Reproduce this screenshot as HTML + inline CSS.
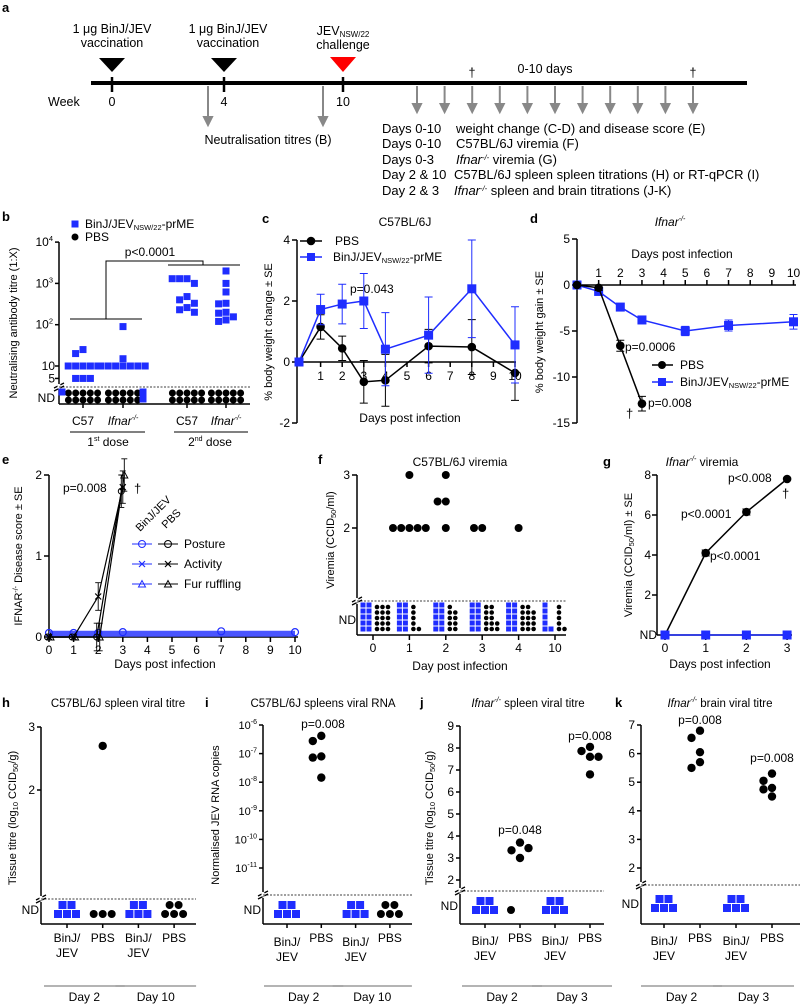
<!DOCTYPE html>
<html><head><meta charset="utf-8"><style>
html,body{margin:0;padding:0;background:#fff}
svg{display:block;font-family:"Liberation Sans",Arial,sans-serif}
text{fill:#000}
</style></head><body>
<svg id="fig" xmlns="http://www.w3.org/2000/svg" width="800" height="1008" viewBox="0 0 800 1008">
<g font-size="12.5">
<text x="2" y="12" font-size="13" font-weight="bold">a</text>
<line x1="91" y1="83" x2="747" y2="83" stroke="#000" stroke-width="4"/>
<polygon points="99,58 125,58 112,72" fill="#000"/>
<polygon points="211,58 237,58 224,72" fill="#000"/>
<polygon points="330,57 356,57 343,72" fill="#f00"/>
<g stroke="#000" stroke-width="2.5"><line x1="112" y1="77" x2="112" y2="92"/><line x1="224" y1="77" x2="224" y2="92"/><line x1="343" y1="77" x2="343" y2="92"/></g>
<text x="112" y="33" text-anchor="middle">1 μg BinJ/JEV</text>
<text x="112" y="47" text-anchor="middle">vaccination</text>
<text x="228" y="33" text-anchor="middle">1 μg BinJ/JEV</text>
<text x="228" y="47" text-anchor="middle">vaccination</text>
<text x="343" y="35" text-anchor="middle">JEV<tspan font-size="8" dy="2">NSW/22</tspan></text>
<text x="343" y="49" text-anchor="middle">challenge</text>
<text x="48" y="106">Week</text>
<text x="112" y="106" text-anchor="middle">0</text>
<text x="224" y="106" text-anchor="middle">4</text>
<text x="343" y="106" text-anchor="middle">10</text>
<g stroke="#888" stroke-width="2" fill="#888">
<line x1="208" y1="86" x2="208" y2="118"/><polygon points="204,117 212,117 208,125"/>
<line x1="323" y1="86" x2="323" y2="118"/><polygon points="319,117 327,117 323,125"/>
</g>
<text x="268" y="144" text-anchor="middle">Neutralisation titres (B)</text>
<g id="dayArrows" stroke="#888" stroke-width="2" fill="#888"></g>
<text x="472" y="77" text-anchor="middle">†</text>
<text x="693" y="77" text-anchor="middle">†</text>
<text x="545" y="73" text-anchor="middle">0-10 days</text>
<g font-size="13">
<text x="382" y="133">Days 0-10</text><text x="456" y="133">weight change (C-D) and disease score (E)</text>
<text x="382" y="148">Days 0-10</text><text x="456" y="148">C57BL/6J viremia (F)</text>
<text x="382" y="164">Days 0-3</text><text x="456" y="164"><tspan font-style="italic">Ifnar</tspan><tspan font-size="7.5" dy="-4" font-style="italic">-/-</tspan><tspan dy="4"> viremia (G)</tspan></text>
<text x="382" y="179">Day 2 &amp; 10</text><text x="454" y="179">C57BL/6J spleen spleen titrations (H) or RT-qPCR (I)</text>
<text x="382" y="195">Day 2 &amp; 3</text><text x="454" y="195"><tspan font-style="italic">Ifnar</tspan><tspan font-size="7.5" dy="-4" font-style="italic">-/-</tspan><tspan dy="4"> spleen and brain titrations (J-K)</tspan></text>
</g>
</g>
</svg>
<script>
// ===== DATA =====
const bGroups=['C57 1st','Ifnar 1st','C57 2nd','Ifnar 2nd'];
const bVacC57_1=[25,20,10,10,10,10,10,5,5,5];
const bVacIfn_1=[90,15,10,10,10,10,10,10,10];
const bVacC57_2=[1300,1300,1000,1300,480,400,330,260,230,200];
const bVacIfn_2=[2000,1000,620,330,320,200,190,155,130,120];
const bVacND=[1,2,0,0];
const bPbsND=[10,10,10,10];
const cDays=[0,1,2,3,4,6,8,10];
const cPbs=[0,1.15,0.45,-0.65,-0.6,0.52,0.49,-0.36];
const cPbsSE=[0,0.4,0.4,0.7,0.85,0.55,0.9,0.9];
const cVac=[0,1.72,1.9,2.0,0.42,0.88,2.4,0.56];
const cVacSE=[0,0.5,0.65,0.9,1.2,1.25,1.6,1.25];
const dPbsDays=[0,1,2,3];
const dPbs=[0,-0.3,-6.6,-12.9];
const dPbsSE=[0,0.3,0.6,0.8];
const dVacDays=[0,1,2,3,5,7,10];
const dVac=[0,-0.7,-2.4,-3.8,-5.0,-4.4,-4.0];
const dVacSE=[0,0.2,0.3,0.4,0.5,0.6,0.8];
const eDays=[0,1,2,3];
const ePosture=[0,0,0,1.8];
const eActivity=[0,0,0.5,1.85];
const eFur=[0,0,0,2.0];
const eSE=[0,0,0.17,0.2];
const eVacDays=[0,1,2,3,7,10];
const eVac=[0.05,0.05,0.05,0.06,0.07,0.06];
const fDays=['0','1','2','3','4','10'];
const fPbs=[[],[2,2,2,2,2,3],[3,2.5,2.5,2],[2,2],[2],[]];
const fVacND=[10,10,10,10,10,6];
const fPbsND=[15,6,9,12,14,6];
const gDays=[0,1,2,3];
const gPbs=[0,4.1,6.15,7.8];
const gVac=[0,0,0,0];
const hCats=['BinJ/JEV','PBS','BinJ/JEV','PBS'];
const hVals=[[],[2.7],[],[]];
const hND=[5,3,5,5];
const iVals=[[],[-6.38,-6.56,-7.1,-7.14,-7.84],[],[]];
const iND=[5,0,5,5];
const jVals=[[],[3.7,3.35,3.45,3.0],[],[8.05,7.86,7.6,7.6,6.8]];
const jND=[5,1,5,0];
const kVals=[[],[6.8,6.55,6.05,5.7,5.5],[],[5.3,5.05,4.8,4.75,4.5]];
const kND=[5,0,5,0];

// ===== HELPERS =====
const NS='http://www.w3.org/2000/svg';
const svg=document.getElementById('fig');
const BLUE='#1f2dff';
function mk(tag,a,p){const e=document.createElementNS(NS,tag);for(const k in a)e.setAttribute(k,a[k]);(p||svg).appendChild(e);return e;}
function tx(x,y,s,p,extra){const a=Object.assign({x:x,y:y,'font-size':11},extra||{});const e=mk('text',a,p);e.innerHTML=s;return e;}
function grp(){return mk('g',{});}
function beeswarm(vals,yf,cx,sp){const placed=[];const out=[];vals.forEach(v=>{const y=yf(v);const offs=[0,-sp,sp,-2*sp,2*sp,-3*sp,3*sp,-4*sp,4*sp];for(const o of offs){const x=cx+o;if(!placed.some(p=>Math.hypot(p[0]-x,p[1]-y)<sp-0.5)){placed.push([x,y]);out.push([x,y]);break;}}});return out;}
function sq(x,y,s,p,c){return mk('rect',{x:x-s/2,y:y-s/2,width:s,height:s,fill:c||BLUE},p);}
function dot(x,y,r,p){return mk('circle',{cx:x,cy:y,r:r,fill:'#000'},p);}
function line(x1,y1,x2,y2,p,w,c,da){const a={x1:x1,y1:y1,x2:x2,y2:y2,stroke:c||'#000','stroke-width':w||1.5};if(da)a['stroke-dasharray']=da;return mk('line',a,p);}
function breakMark(x,y,p){const g=mk('g',{},p);line(x-5,y+1,x+5,y-4,g,1.3);line(x-5,y+4,x+5,y-1,g,1.3);mk('rect',{x:x-1.5,y:y-2.5,width:3,height:4,fill:'#fff'},g);return g;}
function ytitle(x,y,s,p){const e=tx(x,y,s,p,{'text-anchor':'middle',transform:'rotate(-90 '+x+' '+y+')'});return e;}

// ===== PANEL A arrows =====
const arrowDays=[0,1,2,3,4,5,6,7,8,9,10];
const ag=document.getElementById('dayArrows');
arrowDays.forEach(d=>{const x=417+27.6*d;const l=line(x,86,x,105,ag,2,'#888');


const h=mk('polygon',{points:(x-4)+',104 '+(x+4)+',104 '+x+',112'},ag);

});

// ===== PANEL B =====
(function(){
const g=grp();


const lb=tx(2,221,'b',g,{'font-size':13,'font-weight':'bold'});


const yB=v=>366-41.3*(Math.log10(v)-1);
const X0=59,XE=250,YAX=404;
const ya=line(X0,242,X0,384,g);


const ya2=line(X0,390,X0,YAX,g);


breakMark(X0,387,g);
const xa=line(X0,YAX,XE,YAX,g);


const dl=line(X0,387,XE,387,g,0.8,'#000','2,1.5');


const yTickVals=[10000,1000,100,10,5];
const yTickLbl=['10<tspan font-size="7.5" dy="-5">4</tspan>','10<tspan font-size="7.5" dy="-5">3</tspan>','10<tspan font-size="7.5" dy="-5">2</tspan>','10','5'];
yTickVals.forEach((v,i)=>{const y=yB(v);line(X0-4,y,X0,y,g);const t=tx(i<3?53:55,y+4,yTickLbl[i],g,{'text-anchor':'end','font-size':12});

});
const nd=tx(55,402,'ND',g,{'text-anchor':'end','font-size':12});


const gx=[83,123,187,226];
const vac=[bVacC57_1,bVacIfn_1,bVacC57_2,bVacIfn_2];
gx.forEach((cx,gi)=>{line(cx,YAX,cx,YAX+4,g);
beeswarm(vac[gi],yB,cx,7.4).forEach(p=>{const s=sq(p[0],p[1],7,g);

});
for(let k=0;k<bPbsND[gi];k++){const c=dot(cx-14.6+7.3*(k%5),393+7*Math.floor(k/5),3.5,g);

}
for(let k=0;k<bVacND[gi];k++){const s=sq(gi===0?cx-21:cx+20,392+7*k,7,g);

}
});
const grpLbl=['C57','<tspan font-style="italic">Ifnar</tspan><tspan font-size="7" dy="-5" font-style="italic">-/-</tspan>','C57','<tspan font-style="italic">Ifnar</tspan><tspan font-size="7" dy="-5" font-style="italic">-/-</tspan>'];
gx.forEach((cx,i)=>{const t=tx(cx,425,grpLbl[i],g,{'text-anchor':'middle','font-size':12});

});
line(70,432,145,432,g,1);line(174,432,248,432,g,1);
const d1=tx(108,446,'1<tspan font-size="7" dy="-5">st</tspan><tspan dy="5"> dose</tspan>',g,{'text-anchor':'middle','font-size':12});


const d2=tx(210,446,'2<tspan font-size="7" dy="-5">nd</tspan><tspan dy="5"> dose</tspan>',g,{'text-anchor':'middle','font-size':12});


const br=mk('path',{d:'M70 319H142M106 319V261H203V265M168 265H240',fill:'none',stroke:'#000','stroke-width':1},g);


const pv=tx(150,256,'p&lt;0.0001',g,{'text-anchor':'middle','font-size':12});


const yt=ytitle(17,323,'Neutralising antibody titre (1:X)',g);


const ls=sq(75,224,7,g);


const lt=tx(85,228,'BinJ/JEV<tspan font-size="7.5" dy="2">NSW/22</tspan><tspan dy="-2">-prME</tspan>',g,{'font-size':12});


const lc=dot(75,237,3.5,g);


const lp=tx(85,241,'PBS',g,{'font-size':12});


})();

// ===== generic series with error bars =====
function series(g,days,vals,se,xf,yf,color,marker,name){
const pts=days.map((d,i)=>[xf(d),yf(vals[i])]);
const pl=mk('polyline',{points:pts.map(p=>p.join(',')).join(' '),fill:'none',stroke:color,'stroke-width':1.5},g);


days.forEach((d,i)=>{if(se&&se[i]>0){const x=xf(d);const e=mk('path',{d:'M'+x+' '+yf(vals[i]+se[i])+'V'+yf(vals[i]-se[i])+'M'+(x-4)+' '+yf(vals[i]+se[i])+'H'+(x+4)+'M'+(x-4)+' '+yf(vals[i]-se[i])+'H'+(x+4),stroke:color,'stroke-width':1,fill:'none'},g);

}
const m=marker==='sq'?sq(pts[i][0],pts[i][1],9,g,color):mk('circle',{cx:pts[i][0],cy:pts[i][1],r:4.3,fill:color},g);

});}

// ===== PANEL C =====
(function(){
const g=grp();


const lb=tx(262,223,'c',g,{'font-size':13,'font-weight':'bold'});


const ti=tx(405,226,'C57BL/6J',g,{'text-anchor':'middle','font-size':12});


const xC=d=>299+21.6*d, yC=v=>362-30.5*v;
const ya=line(297,240,297,423,g);


const xa=line(297,362,516,362,g);


const cYT=[4,2,0,-2];
cYT.forEach(v=>{line(292,yC(v),297,yC(v),g);const t=tx(290,yC(v)+4,String(v),g,{'text-anchor':'end','font-size':12});

});
const cXT=[1,2,3,4,5,6,7,8,9,10];
cXT.forEach(d=>{line(xC(d),362,xC(d),367,g);const t=tx(xC(d),380,String(d),g,{'text-anchor':'middle','font-size':12});

});
series(g,cDays,cPbs,cPbsSE,xC,yC,'#000','c','pbs');
series(g,cDays,cVac,cVacSE,xC,yC,BLUE,'sq','vaccinated');
const xt=tx(410,422,'Days post infection',g,{'text-anchor':'middle','font-size':12});


const yt=ytitle(272,332,'% body weight change ± SE',g);


const pv=tx(350,293,'p=0.043',g,{'font-size':12});


line(300,241,322,241,g);dot(311,241,4.3,g);
const l1=tx(335,245,'PBS',g,{'font-size':12});


line(300,257,322,257,g,1.5,BLUE);sq(311,257,8,g);
const l2=tx(333,261,'BinJ/JEV<tspan font-size="7.5" dy="2">NSW/22</tspan><tspan dy="-2">-prME</tspan>',g,{'font-size':12});


})();

// ===== PANEL D =====
(function(){
const g=grp();


const lb=tx(530,223,'d',g,{'font-size':13,'font-weight':'bold'});


const ti=tx(670,226,'<tspan font-style="italic">Ifnar</tspan><tspan font-size="7" dy="-5" font-style="italic">-/-</tspan>',g,{'text-anchor':'middle','font-size':12});


const xD=d=>577+21.65*d, yD=v=>285-9.2*v;
const ya=line(577,239,577,423,g);


const xa=line(577,285,796,285,g);


const dYT=[5,0,-5,-10,-15];
dYT.forEach(v=>{line(572,yD(v),577,yD(v),g);const t=tx(570,yD(v)+4,String(v),g,{'text-anchor':'end','font-size':12});

});
const dXT=[1,2,3,4,5,6,7,8,9,10];
dXT.forEach(d=>{line(xD(d),280,xD(d),285,g);const t=tx(xD(d),277,String(d),g,{'text-anchor':'middle','font-size':12});

});
const xt=tx(682,258,'Days post infection',g,{'text-anchor':'middle','font-size':12});


series(g,dVacDays,dVac,dVacSE,xD,yD,BLUE,'sq','vaccinated');
series(g,dPbsDays,dPbs,dPbsSE,xD,yD,'#000','c','pbs');
const yt=ytitle(543,332,'% body weight gain ± SE',g);


const p1=tx(625,351,'p=0.0006',g,{'font-size':12});


const p2=tx(648,407,'p=0.008',g,{'font-size':12});


const dg=tx(626,418,'†',g,{'font-size':13});


line(652,365,673,365,g);dot(662,365,4,g);
const l1=tx(680,369,'PBS',g,{'font-size':12});


line(652,382,673,382,g,1.5,BLUE);sq(662,382,8,g);
const l2=tx(680,386,'BinJ/JEV<tspan font-size="7.5" dy="2">NSW/22</tspan><tspan dy="-2">-prME</tspan>',g,{'font-size':12});


})();

// ===== PANEL E =====
(function(){
const g=grp();


const lb=tx(2,464,'e',g,{'font-size':13,'font-weight':'bold'});


const xE=d=>49+24.6*d, yE=v=>637-81*v;
const ya=line(49,475,49,637,g);


const xa=line(49,637,298,637,g);


const eYT=[0,1,2];
eYT.forEach(v=>{line(44,yE(v),49,yE(v),g);const t=tx(42,yE(v)+4,String(v),g,{'text-anchor':'end','font-size':12});

});
const eXT=[0,1,2,3,4,5,6,7,8,9,10];
eXT.forEach(d=>{line(xE(d),637,xE(d),642,g);const t=tx(xE(d),654,String(d),g,{'text-anchor':'middle','font-size':12});

});
const band=line(xE(0),yE(0.04),xE(10),yE(0.04),g,6,'#4a55ff');


eVacDays.forEach((d,i)=>{const c=mk('circle',{cx:xE(d),cy:yE(eVac[i]),r:3.5,fill:'none',stroke:BLUE,'stroke-width':1.2},g);

});
const sets=[[ePosture,'posture'],[eActivity,'activity'],[eFur,'fur-ruffling']];
sets.forEach(([vals,nm],si)=>{const pts=eDays.map((d,i)=>[xE(d)+(si-1)*1.5,yE(vals[i])]);
const pl=mk('polyline',{points:pts.map(p=>p.join(',')).join(' '),fill:'none',stroke:'#000','stroke-width':1.2},g);


pts.forEach((p,i)=>{if(eSE[i]>0){const e=mk('path',{d:'M'+p[0]+' '+(p[1]-eSE[i]*81)+'V'+(p[1]+eSE[i]*81)+'M'+(p[0]-3)+' '+(p[1]-eSE[i]*81)+'H'+(p[0]+3)+'M'+(p[0]-3)+' '+(p[1]+eSE[i]*81)+'H'+(p[0]+3),stroke:'#000','stroke-width':0.9,fill:'none'},g);

}
const m=si===0?mk('circle',{cx:p[0],cy:p[1],r:3,fill:'none',stroke:'#000'},g):si===1?mk('path',{d:'M'+(p[0]-3)+' '+(p[1]-3)+'L'+(p[0]+3)+' '+(p[1]+3)+'M'+(p[0]+3)+' '+(p[1]-3)+'L'+(p[0]-3)+' '+(p[1]+3),stroke:'#000','stroke-width':1.2},g):mk('polygon',{points:(p[0]-3.5)+','+(p[1]+3)+' '+(p[0]+3.5)+','+(p[1]+3)+' '+p[0]+','+(p[1]-3.5),fill:'none',stroke:'#000'},g);

});});
const pv=tx(63,492,'p=0.008',g,{'font-size':12});


const dg=tx(134,493,'†',g,{'font-size':13});


const r1=tx(140,532,'BinJ/JEV',g,{'font-size':11,transform:'rotate(-45 140 532)'});


const r2=tx(166,529,'PBS',g,{'font-size':11,transform:'rotate(-45 166 529)'});


const leg=['Posture','Activity','Fur ruffling'];
leg.forEach((s,i)=>{const y=544+20*i;line(132,y,152,y,g,1,BLUE);line(158,y,178,y,g,1);
const b=i===0?mk('circle',{cx:142,cy:y,r:3.5,fill:'none',stroke:BLUE},g):i===1?mk('path',{d:'M139 '+(y-3)+'L145 '+(y+3)+'M145 '+(y-3)+'L139 '+(y+3),stroke:BLUE,'stroke-width':1.2},g):mk('polygon',{points:'138.5,'+(y+3)+' 145.5,'+(y+3)+' 142,'+(y-3.5),fill:'none',stroke:BLUE},g);


const k=i===0?mk('circle',{cx:168,cy:y,r:3.5,fill:'none',stroke:'#000'},g):i===1?mk('path',{d:'M165 '+(y-3)+'L171 '+(y+3)+'M171 '+(y-3)+'L165 '+(y+3),stroke:'#000','stroke-width':1.2},g):mk('polygon',{points:'164.5,'+(y+3)+' 171.5,'+(y+3)+' 168,'+(y-3.5),fill:'none',stroke:'#000'},g);


const t=tx(184,y+4,s,g,{'font-size':12});

});
const xt=tx(165,668,'Days post infection',g,{'text-anchor':'middle','font-size':12});


const yt=ytitle(22,556,'IFNAR<tspan font-size="7" dy="-4">-/-</tspan><tspan dy="4"> Disease score ± SE</tspan>',g);


})();

// ===== PANEL F =====
(function(){
const g=grp();


const lb=tx(318,464,'f',g,{'font-size':13,'font-weight':'bold'});


const ti=tx(460,466,'C57BL/6J viremia',g,{'text-anchor':'middle','font-size':12});


const xF=i=>373+36.4*i, yF=v=>528-53*(v-2);
const ya=line(357,475,357,598,g);


const ya2=line(357,604,357,635,g);


breakMark(357,601,g);
const xa=line(357,635,566,635,g);


const dl=line(357,601,566,601,g,0.8,'#000','2,1.5');


const fYT=[3,2];
fYT.forEach(v=>{line(352,yF(v),357,yF(v),g);const t=tx(350,yF(v)+4,String(v),g,{'text-anchor':'end','font-size':12});

});
const nd=tx(356,624,'ND',g,{'text-anchor':'end','font-size':12});


fDays.forEach((d,i)=>{const x=xF(i);line(x,635,x,640,g);const t=tx(x,652,d,g,{'text-anchor':'middle','font-size':12});


beeswarm(fPbs[i],yF,x,8.2).forEach(p=>{const c=dot(p[0],p[1],4,g);

});
for(let k=0;k<fVacND[i];k++){const s=sq(x-10+6*Math.floor(k/5),629-6*(k%5),5,g);

}
for(let k=0;k<fPbsND[i];k++){const c=dot(x+4+5.5*Math.floor(k/5),629-5.5*(k%5),2.3,g);

}
});
const xt=tx(460,670,'Day post infection',g,{'text-anchor':'middle','font-size':12});


const yt=ytitle(334,540,'Viremia (CCID<tspan font-size="7.5" dy="2">50</tspan><tspan dy="-2">/ml)</tspan>',g);


})();

// ===== PANEL G =====
(function(){
const g=grp();


const lb=tx(603,466,'g',g,{'font-size':13,'font-weight':'bold'});


const ti=tx(702,466,'<tspan font-style="italic">Ifnar</tspan><tspan font-size="7" dy="-5" font-style="italic">-/-</tspan><tspan dy="5"> viremia</tspan>',g,{'text-anchor':'middle','font-size':12});


const xG=d=>665+40.7*d, yG=v=>635-20*v;
const ya=line(657,475,657,635,g);


const xa=line(657,635,792,635,g);


const gYT=[8,6,4,2];
gYT.forEach(v=>{line(652,yG(v),657,yG(v),g);const t=tx(651,yG(v)+4,String(v),g,{'text-anchor':'end','font-size':12});

});
const nd=tx(657,639,'ND',g,{'text-anchor':'end','font-size':12});


gDays.forEach(d=>{line(xG(d),635,xG(d),640,g);const t=tx(xG(d),652,String(d),g,{'text-anchor':'middle','font-size':12});

});
const gSE=[0,0.15,0.15,0];
series(g,gDays,gPbs,gSE,xG,yG,'#000','c','pbs');
series(g,gDays,gVac,null,xG,yG,BLUE,'sq','vaccinated');
const p1=tx(710,560,'p&lt;0.0001',g,{'font-size':12});


const p2=tx(681,518,'p&lt;0.0001',g,{'font-size':12});


const p3=tx(728,482,'p&lt;0.008',g,{'font-size':12});


const dg=tx(782,498,'†',g,{'font-size':13});


const xt=tx(720,668,'Days post infection',g,{'text-anchor':'middle','font-size':12});


const yt=ytitle(632,555,'Viremia (CCID<tspan font-size="7.5" dy="2">50</tspan><tspan dy="-2">/ml) ± SE</tspan>',g);


})();

// ===== BOTTOM PANELS =====
function dotPanel(cfg){
const g=grp();


const lb=tx(cfg.lx,707,cfg.letter,g,{'font-size':13,'font-weight':'bold'});


const ti=tx(cfg.tx,707,cfg.title,g,{'text-anchor':'middle','font-size':11.5});


const X=cfg.ax,XE=cfg.axEnd,DL=cfg.dash,YA=924;
const ya=line(X,cfg.top,X,DL-3,g);


const ya2=line(X,DL+3,X,YA,g);


breakMark(X,DL,g);
const xa=line(X,YA,XE,YA,g);


const dl=line(X,DL,XE,DL,g,0.8,'#000','2,1.5');


cfg.ticks.forEach((v,i)=>{const y=cfg.yf(v);line(X-4,y,X,y,g);const t=tx(X-6,y+4,cfg.tickLbl[i],g,{'text-anchor':'end','font-size':cfg.tickFs||12});

});
const nd=tx(X-2,cfg.ndY+4,'ND',g,{'text-anchor':'end','font-size':12});


hCats.forEach((c,i)=>{const x=cfg.x0+cfg.step*i;line(x,YA,x,YA+4,g);
if(i%2===0){const t1=tx(x,cfg.lblY,'BinJ/',g,{'text-anchor':'middle','font-size':12});


const t2=tx(x,cfg.lblY+15,'JEV',g,{'text-anchor':'middle','font-size':12});

}
else{const t=tx(x,942,'PBS',g,{'text-anchor':'middle','font-size':12});

}
beeswarm(cfg.vals[i],cfg.yf,x,8.5).forEach(p=>{const d=dot(p[0],p[1],4.2,g);

});
const n=cfg.nd[i];const top=n-3>0?n-3:0;
for(let k=0;k<n;k++){const row=k<3?0:1;const col=row===0?k-1:(k-3)-(top-1)/2;const px=x+col*9,py=cfg.ndY+4-row*9;
if(i%2===0){const s=sq(px,py,8,g);

}
else{const d=dot(px,py,4,g);

}}
});
cfg.days.forEach((d,j)=>{const x1=cfg.x0+cfg.step*2*j-23,x2=cfg.x0+cfg.step*(2*j+1)+22;line(x1,986,x2,986,g,1.2,'#888');
const t=tx((x1+x2)/2,1001,d,g,{'text-anchor':'middle','font-size':12});

});
if(cfg.ytitle){const yt=ytitle(cfg.ytx,cfg.yty,cfg.ytitle,g);

}
(cfg.pvals||[]).forEach(p=>{const t=tx(p[0],p[1],p[2],g,{'text-anchor':'middle','font-size':12});

});
}
const sub='CCID<tspan font-size="7.5" dy="2">50</tspan><tspan dy="-2">/g)</tspan>';
const titreTitle='Tissue titre (log<tspan font-size="7.5" dy="2">10</tspan><tspan dy="-2"> </tspan>'+sub;
const ifn='<tspan font-style="italic">Ifnar</tspan><tspan font-size="7" dy="-5" font-style="italic">-/-</tspan><tspan dy="5">';
const hTicks=[3,2];
dotPanel({name:'panel-h-c57-spleen-titre',letter:'h',lx:2,tx:118,title:'C57BL/6J spleen viral titre',ax:41,axEnd:196,top:727,dash:899,ndY:910,
ticks:hTicks,tickLbl:hTicks.map(String),yf:v=>790-63*(v-2),x0:67,step:35.7,lblY:942,vals:hVals,nd:hND,days:['Day 2','Day 10'],ytitle:titreTitle,ytx:16,yty:818});
const iTicks=[-6,-7,-8,-9,-10,-11];
dotPanel({name:'panel-i-c57-spleen-rna',letter:'i',lx:205,tx:323,title:'C57BL/6J spleens viral RNA',ax:263,axEnd:412,top:725,dash:895,ndY:910,tickFs:11,
ticks:iTicks,tickLbl:iTicks.map(v=>'10<tspan font-size="7" dy="-5">'+v+'</tspan>'),yf:v=>725+28.6*(-6-v),x0:287,step:34.3,lblY:946,vals:iVals,nd:iND,days:['Day 2','Day 10'],
ytitle:'Normalised JEV RNA copies',ytx:219,yty:815,pvals:[[323,728,'p=0.008']]});
const jTicks=[9,8,7,6,5,4,3,2];
dotPanel({name:'panel-j-ifnar-spleen-titre',letter:'j',lx:420,tx:528,title:ifn+' spleen viral titre</tspan>',ax:460,axEnd:604,top:726,dash:891,ndY:906,
ticks:jTicks,tickLbl:jTicks.map(String),yf:v=>726+22*(9-v),x0:485,step:35,lblY:945,vals:jVals,nd:jND,days:['Day 2','Day 3'],
ytitle:titreTitle,ytx:433,yty:818,pvals:[[520,834,'p=0.048'],[590,740,'p=0.008']]});
const kTicks=[7,6,5,4,3,2];
dotPanel({name:'panel-k-ifnar-brain-titre',letter:'k',lx:615,tx:720,title:ifn+' brain viral titre</tspan>',ax:641,axEnd:800,top:725,dash:885,ndY:904,
ticks:kTicks,tickLbl:kTicks.map(String),yf:v=>725+28.6*(7-v),x0:664,step:36,lblY:945,vals:kVals,nd:kND,days:['Day 2','Day 3'],
pvals:[[700,724,'p=0.008'],[772,762,'p=0.008']]});
</script>
</body></html>
